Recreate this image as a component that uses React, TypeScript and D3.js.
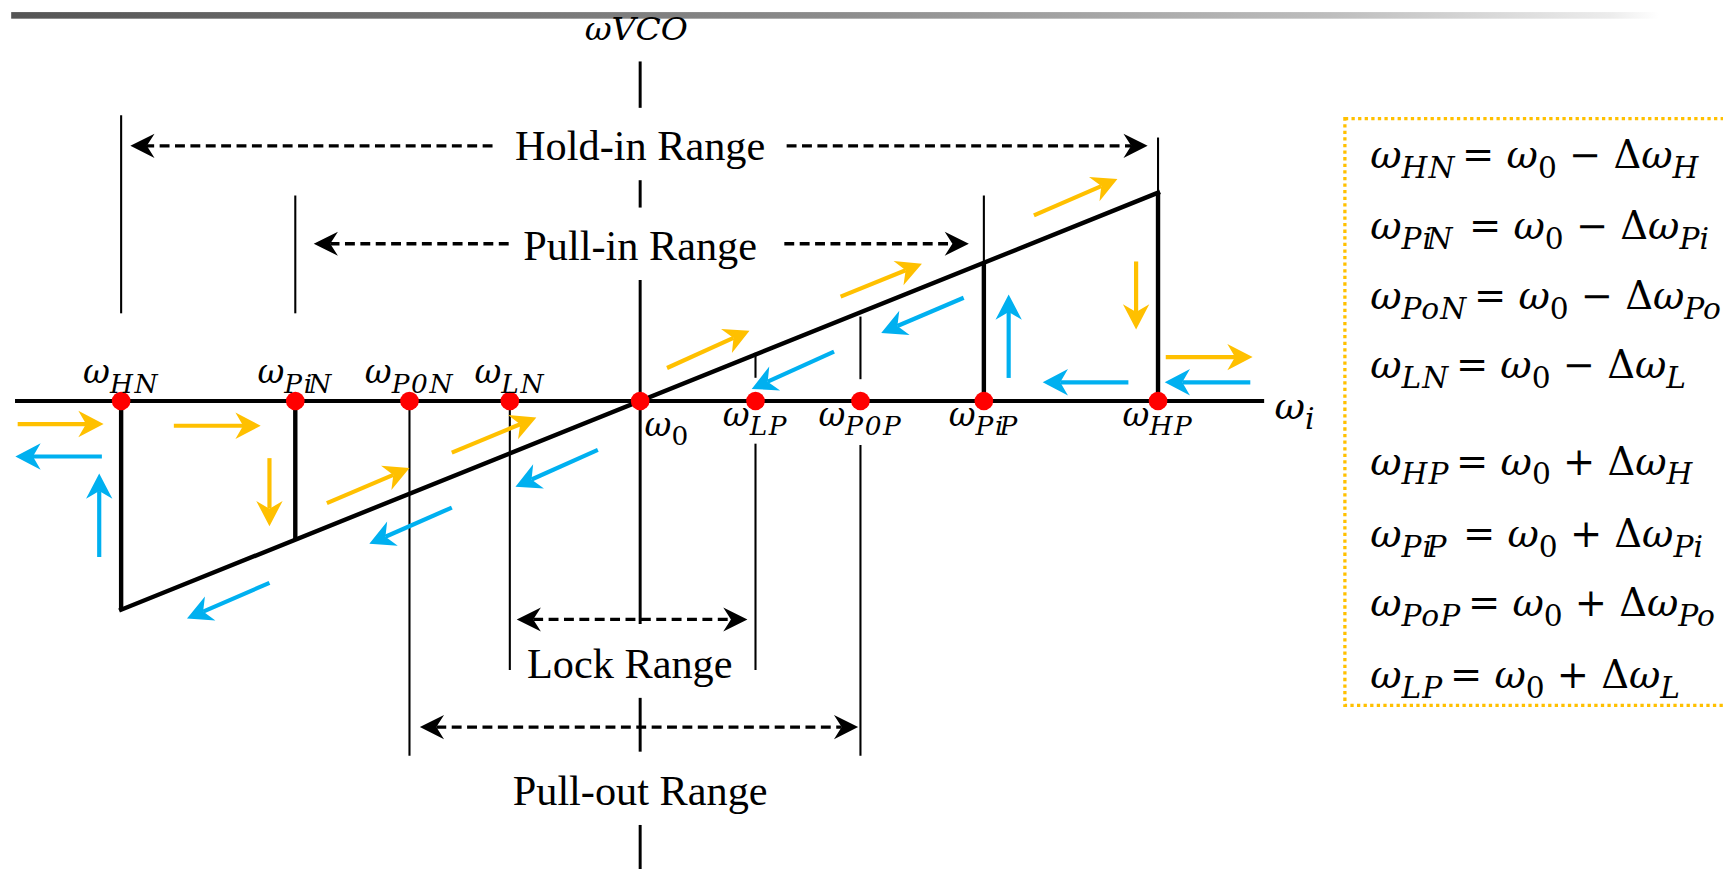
import React from 'react';
import * as d3 from 'd3';

// drawing is laid out in a 1568x791 box, then scaled up to the window
const VIEW_W = 1568;
const VIEW_H = 791;
const OUT_W = 1723;
const OUT_H = 869;

// input frequency markers, in units of offset from w0
const markerNames = ['HN', 'PiN', 'P0N', 'LN', '0', 'LP', 'P0P', 'PiP', 'HP'];
const markerValues = [-4.5, -2.99, -2.0, -1.13, 0, 1.0, 1.91, 2.98, 4.49];

// locked VCO characteristic (wVCO follows wi) between the hold-in limits
const lockedFrom = -4.5;
const lockedTo = 4.49;
// where the VCO jumps between locked line and free-running axis
const jumpValues = [-4.5, -2.99, 2.98, 4.49];

// thin guide lines (x, top, bottom) in axis units
const guideX = [-4.5, -2.99, -2.0, -1.13, 1.0, 1.0, 1.91, 1.91, 2.98, 4.49];
const guideTop = [6.16, 4.43, 0, 0, 1.04, -0.92, 1.82, -0.95, 4.43, 5.68];
const guideBottom = [1.89, 1.89, -7.65, -5.8, 0.5, -5.8, 0.47, -7.65, 2.98, 4.49];

// the wVCO axis is broken where the labels sit
const vcoTop = [7.32, 4.76, 2.61, -6.4, -9.14];
const vcoBottom = [6.32, 4.17, -4.81, -7.56, -10.09];

// range annotations
const rangeNames = ['Hold-in Range', 'Pull-in Range', 'Lock Range', 'Pull-out Range'];
const rangeArrowY = [5.5, 3.39, -4.71, -7.03];
const rangeFrom = [-4.42, -2.83, -1.07, -1.91];
const rangeTo = [4.4, 2.85, 0.93, 1.89];
const rangeGapFrom = [-1.28, -1.14, null, null];
const rangeGapTo = [1.27, 1.25, null, null];
const rangeLabelX = [0, 0, -0.09, 0];
const rangeLabelY = [5.19, 3.03, -5.97, -8.72];

// sweep direction arrows [x1, y1, x2, y2]
const yellowArrows = [
  [-5.397, -0.497, -4.652, -0.497],
  [-4.043, -0.533, -3.29, -0.533],
  [-3.214, -1.232, -3.214, -2.7],
  [-2.716, -2.203, -2.0, -1.445],
  [-1.633, -1.113, -0.9, -0.355],
  [0.233, 0.711, 0.948, 1.516],
  [1.738, 2.25, 2.443, 2.961],
  [3.414, 4.003, 4.138, 4.784],
  [4.3, 3.008, 4.3, 1.54],
  [4.557, 0.947, 5.31, 0.947],
];
const blueArrows = [
  [-4.667, -1.196, -5.417, -1.196],
  [-4.69, -3.363, -4.69, -1.563],
  [-3.214, -3.92, -3.929, -4.69],
  [-1.633, -2.297, -2.348, -3.079],
  [-0.367, -1.054, -1.081, -1.847],
  [1.681, 1.066, 0.967, 0.261],
  [2.805, 2.226, 2.09, 1.468],
  [3.195, 0.497, 3.195, 2.297],
  [4.233, 0.403, 3.49, 0.403],
  [5.29, 0.403, 4.548, 0.403],
];

// equation box
const eqLeft = ['HN', 'PiN', 'PoN', 'LN', 'HP', 'PiP', 'PoP', 'LP'];
const eqSign = ['−', '−', '−', '−', '+', '+', '+', '+'];
const eqDelta = ['H', 'Pi', 'Po', 'L', 'H', 'Pi', 'Po', 'L'];

const YELLOW = '#FFC000';
const BLUE = '#00B0F0';
const MATH = "'DejaVu Serif', serif";
const TIMES = "'Liberation Serif', 'Times New Roman', serif";

const x = d3.scaleLinear().domain([-5.42, 5.41]).range([13.5, 1150.5]);
const y = d3.scaleLinear().domain([0, 4.5]).range([365, 175]);

function headPath(x1: number, y1: number, x2: number, y2: number, len: number, half: number, notch: number) {
  const L = Math.hypot(x2 - x1, y2 - y1);
  const ux = (x2 - x1) / L;
  const uy = (y2 - y1) / L;
  const nx = -uy;
  const ny = ux;
  const bx = x2 - ux * len;
  const by = y2 - uy * len;
  const p = d3.path();
  p.moveTo(x2, y2);
  p.lineTo(bx + nx * half, by + ny * half);
  p.lineTo(x2 - ux * (len - notch), y2 - uy * (len - notch));
  p.lineTo(bx - nx * half, by - ny * half);
  p.closePath();
  return { d: p.toString(), sx: x2 - ux * (len - notch), sy: y2 - uy * (len - notch) };
}

function ColorArrow({ a, color }: { a: number[]; color: string }) {
  const x1 = x(a[0]);
  const y1 = y(a[1]);
  const x2 = x(a[2]);
  const y2 = y(a[3]);
  const h = headPath(x1, y1, x2, y2, 23, 12, 7);
  return (
    <g>
      <line x1={x1} y1={y1} x2={h.sx} y2={h.sy} stroke={color} strokeWidth={3.8} />
      <path d={h.d} fill={color} />
    </g>
  );
}

function DashArrow({ from, to, at, both }: { from: number; to: number; at: number; both: boolean }) {
  const yy = y(at);
  const x1 = x(from);
  const x2 = x(to);
  const h2 = headPath(x1, yy, x2, yy, 22, 11, 7);
  const h1 = both ? headPath(x2, yy, x1, yy, 22, 11, 7) : null;
  return (
    <g>
      <line x1={h1 ? h1.sx : x1} y1={yy} x2={h2.sx} y2={yy} stroke="#000" strokeWidth={3} strokeDasharray="9 5" />
      <path d={h2.d} fill="#000" />
      {h1 && <path d={h1.d} fill="#000" />}
    </g>
  );
}

function Sub({ text, pull }: { text: string; pull: number }) {
  // the "Pi" subscripts were typed with the i sitting on the next letter
  if (text.length === 3 && text[1] === 'i') {
    return (
      <>
        {text[0]}
        {text[1]}
        <tspan dx={-pull}>{text[2]}</tspan>
      </>
    );
  }
  return <>{text}</>;
}

function OmegaLabel({ cx, by, sub, size, anchor }: { cx: number; by: number; sub: string; size: number; anchor: string }) {
  const digit = /^[0-9]$/.test(sub);
  return (
    <text x={cx} y={by} fontFamily={MATH} fontStyle="italic" fontSize={size} textAnchor={anchor} fill="#000">
      ω
      <tspan dy={size * 0.28} fontSize={size * 0.8} fontStyle={digit ? 'normal' : 'italic'} letterSpacing={digit ? 0 : 1.5}>
        <Sub text={sub} pull={5} />
      </tspan>
    </text>
  );
}

export default function App() {
  const eqBase = [153, 218, 281, 344, 432, 498, 561, 626];
  return (
    <svg
      width={OUT_W}
      height={OUT_H}
      viewBox={`0 0 ${VIEW_W} ${VIEW_H}`}
      style={{ position: 'absolute', left: 0, top: 0, background: '#fff' }}
    >
      <defs>
        <linearGradient id="topbar" x1="0" x2="1" y1="0" y2="0">
          <stop offset="0" stopColor="#555" />
          <stop offset="0.5" stopColor="#8c8c8c" />
          <stop offset="0.8" stopColor="#bdbdbd" />
          <stop offset="0.97" stopColor="#ececec" />
          <stop offset="1" stopColor="#fff" />
        </linearGradient>
      </defs>
      <rect x={10} y={11} width={1500} height={6} fill="url(#topbar)" />

      {/* wVCO axis */}
      {vcoTop.map((t, i) => (
        <line key={'v' + i} x1={x(0)} x2={x(0)} y1={y(t)} y2={y(vcoBottom[i])} stroke="#000" strokeWidth={2.7} />
      ))}
      <text x={579} y={36} fontFamily={MATH} fontStyle="italic" fontSize={28} textAnchor="middle" textLength={94} lengthAdjust="spacingAndGlyphs">
        ωVCO
      </text>

      {/* thin guides */}
      {guideX.map((g, i) => (
        <line key={'g' + i} x1={x(g)} x2={x(g)} y1={y(guideTop[i])} y2={y(guideBottom[i])} stroke="#000" strokeWidth={1.9} />
      ))}

      {/* input axis */}
      <line x1={x.range()[0]} x2={x.range()[1]} y1={y(0)} y2={y(0)} stroke="#000" strokeWidth={3.7} />
      <OmegaLabel cx={1160} by={381} sub="i" size={34} anchor="start" />

      {/* locked line and jumps */}
      <line x1={x(lockedFrom)} y1={y(lockedFrom)} x2={x(lockedTo)} y2={y(lockedTo)} stroke="#000" strokeWidth={4} strokeLinecap="square" />
      {jumpValues.map((j, i) => (
        <line key={'j' + i} x1={x(j)} x2={x(j)} y1={y(0)} y2={y(j)} stroke="#000" strokeWidth={4} />
      ))}

      {/* ranges */}
      {rangeNames.map((n, i) => {
        const gf = rangeGapFrom[i];
        const gt = rangeGapTo[i];
        return (
          <g key={'r' + i}>
            {gf !== null && gt !== null ? (
              <>
                <DashArrow from={gf} to={rangeFrom[i]} at={rangeArrowY[i]} both={false} />
                <DashArrow from={gt} to={rangeTo[i]} at={rangeArrowY[i]} both={false} />
              </>
            ) : (
              <DashArrow from={rangeFrom[i]} to={rangeTo[i]} at={rangeArrowY[i]} both={true} />
            )}
            <text x={x(rangeLabelX[i])} y={y(rangeLabelY[i])} fontFamily={TIMES} fontSize={38.5} textAnchor="middle" fill="#000">
              {n}
            </text>
          </g>
        );
      })}

      {/* direction arrows */}
      {yellowArrows.map((a, i) => <ColorArrow key={'y' + i} a={a} color={YELLOW} />)}
      {blueArrows.map((a, i) => <ColorArrow key={'b' + i} a={a} color={BLUE} />)}

      {/* markers */}
      {markerValues.map((v, i) => (
        <circle key={'m' + i} cx={x(v)} cy={y(0)} r={8.5} fill="#FF0000" />
      ))}
      {markerValues.map((v, i) => {
        const name = markerNames[i];
        if (name === '0') return <OmegaLabel key={'l' + i} cx={x(v) + 4} by={397} sub={name} size={30} anchor="start" />;
        return v < 0 ? (
          <OmegaLabel key={'l' + i} cx={x(v)} by={349} sub={name} size={30} anchor="middle" />
        ) : (
          <OmegaLabel key={'l' + i} cx={x(v)} by={388} sub={name} size={30} anchor="middle" />
        );
      })}

      {/* equation box */}
      <rect x={1224} y={108} width={400} height={534} fill="none" stroke={YELLOW} strokeWidth={3} strokeDasharray="3 3" />
      {eqLeft.map((l, i) => (
        <text key={'e' + i} x={1247} y={eqBase[i]} fontFamily={MATH} fontSize={35} fill="#000">
          <tspan fontStyle="italic">ω</tspan>
          <tspan dy={9} fontSize={27} fontStyle="italic" letterSpacing={1}>
            <Sub text={l} pull={6} />
          </tspan>
          <tspan dy={-9} dx={l.includes('i') ? 14 : 6}>= </tspan>
          <tspan fontStyle="italic">ω</tspan>
          <tspan dy={9} fontSize={27}>0</tspan>
          <tspan dy={-9}> {eqSign[i]} Δ</tspan>
          <tspan fontStyle="italic">ω</tspan>
          <tspan dy={9} fontSize={27} fontStyle="italic">{eqDelta[i]}</tspan>
        </text>
      ))}
    </svg>
  );
}
